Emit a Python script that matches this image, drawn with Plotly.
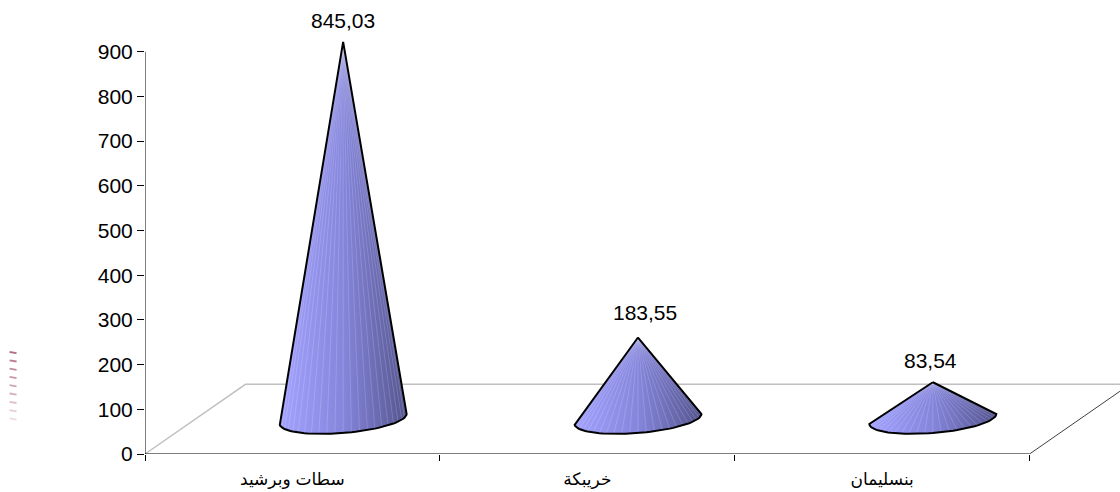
import math
import plotly.graph_objects as go

categories = ["سطات وبرشيد", "خريبكة", "بنسليمان"]
values = [845.03, 183.55, 83.54]
value_labels = ["845,03", "183,55", "83,54"]
y_ticks = [0, 100, 200, 300, 400, 500, 600, 700, 800, 900]

W, H = 1120, 492
L, B_PX = 144.5, 454.0
CAT_PX = 295.0
PX_PER_UNIT = 402.3 / 900
FONT = "Liberation Sans, Arial, DejaVu Sans, sans-serif"

def ux(px):
    return (px - L) / CAT_PX

def uy(px):
    return (B_PX - px) / PX_PER_UNIT

DEPTH_X = ux(245)
DEPTH_Y = uy(384.3)
APEX_OFFSET = 77
BASE_C = uy(419)
CENTER = 0.672
RX = 63.5 / CAT_PX
RY = 14 / PX_PER_UNIT
TILT = 5 / PX_PER_UNIT
STEPS = 48
XMAX = (W - L) / CAT_PX
YMAX = B_PX / PX_PER_UNIT
LABEL_DX = [0, 7, -2]
LABEL_DY = [21, 25, 22]

fig = go.Figure()

fig.add_trace(go.Scatter(x=[0, DEPTH_X, XMAX], y=[0, DEPTH_Y, DEPTH_Y], mode="lines",
                         line=dict(color="#c0c0c0", width=1.4), hoverinfo="skip", showlegend=False))
fig.add_trace(go.Scatter(x=[3, 3 + DEPTH_X * 0.9], y=[0, DEPTH_Y * 0.9], mode="lines",
                         line=dict(color="#404040", width=1), hoverinfo="skip", showlegend=False))

def base_pt(cx, k):
    t = math.pi + math.pi * k / STEPS
    return cx + RX * math.cos(t), BASE_C + TILT * math.cos(t) + RY * math.sin(t)

for i, v in enumerate(values):
    cx = i + CENTER
    apex = v + APEX_OFFSET
    pts = [base_pt(cx, k) for k in range(STEPS + 1)]
    xs = [cx] + [p[0] for p in pts] + [cx]
    ys = [apex] + [p[1] for p in pts] + [apex]
    fig.add_trace(go.Scatter(
        x=xs, y=ys, mode="lines", fill="toself",
        fillgradient=dict(type="horizontal",
                          colorscale=[[0, "#a3a3ff"], [0.5, "#8585dc"], [1, "#55558f"]]),
        line=dict(color="rgba(0,0,0,0)", width=0), hoverinfo="skip", showlegend=False))
    sx, sy = [], []
    for p in pts[2:-1:2]:
        sx += [cx, p[0], None]
        sy += [apex, p[1], None]
    fig.add_trace(go.Scatter(x=sx, y=sy, mode="lines",
                             line=dict(color="rgba(255,255,255,0.16)", width=1),
                             hoverinfo="skip", showlegend=False))
    fig.add_trace(go.Scatter(x=xs, y=ys, mode="lines",
                             line=dict(color="#000000", width=2), hoverinfo="skip", showlegend=False))

fig.add_trace(go.Scatter(x=[0, 0], y=[0, 900], mode="lines", line=dict(color="#000000", width=1),
                         hoverinfo="skip", showlegend=False))
fig.add_trace(go.Scatter(x=[0, 3], y=[0, 0], mode="lines", line=dict(color="#000000", width=1.2),
                         hoverinfo="skip", showlegend=False))

for i, (v, lab) in enumerate(zip(values, value_labels)):
    fig.add_annotation(x=i + CENTER, y=v + APEX_OFFSET, text=lab, showarrow=False,
                       xanchor="center", yanchor="middle",
                       xshift=LABEL_DX[i], yshift=LABEL_DY[i],
                       font=dict(family=FONT, size=21, color="#000000"))

for n in range(9):
    y = 352 + n * 8.3
    fade = 0.85 - n * 0.08
    fig.add_shape(type="line", xref="paper", yref="paper",
                  x0=(9 - L) / (W - L), x1=(16 - L) / (W - L),
                  y0=(B_PX - y) / B_PX, y1=(B_PX - y - 1.2) / B_PX,
                  line=dict(color=f"rgba(165,85,115,{fade:.2f})", width=1.8))

fig.update_layout(
    width=W, height=H, margin=dict(l=L, r=0, t=0, b=H - B_PX, pad=0),
    paper_bgcolor="white", plot_bgcolor="white", showlegend=False,
    font=dict(family=FONT, color="#000000"),
    xaxis=dict(range=[0, XMAX], showgrid=False, zeroline=False, showline=False,
               tickvals=[0.5, 1.5, 2.5], ticktext=categories, ticks="", ticklen=0,
               ticklabelstandoff=13, tickfont=dict(size=17),
               minor=dict(tickvals=[0, 1, 2, 3], ticks="outside", ticklen=6, tickcolor="#000000", tickwidth=1)),
    yaxis=dict(range=[0, YMAX], showgrid=False, zeroline=False, showline=False,
               tickvals=y_ticks, ticks="outside", ticklen=7, tickcolor="#000000", tickwidth=1,
               tickfont=dict(size=21)),
)

fig.write_html("out.html", config=dict(displayModeBar=False),
               post_script="document.body.style.margin='0';document.body.style.overflow='hidden';")
